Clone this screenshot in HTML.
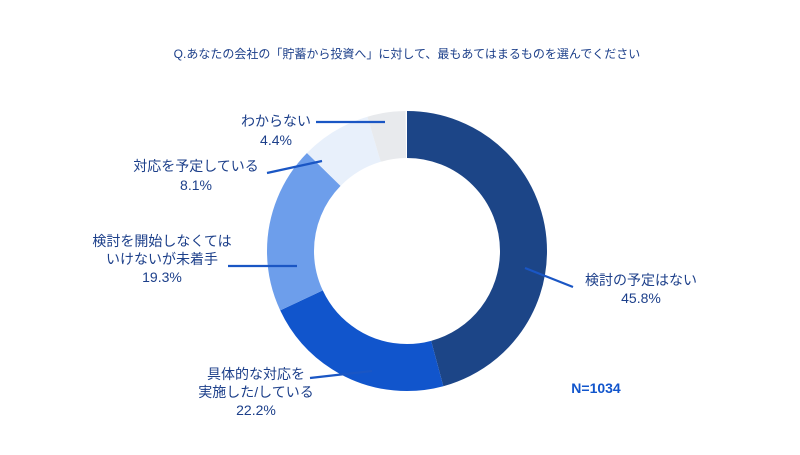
<!DOCTYPE html>
<html><head><meta charset="utf-8"><style>
body{margin:0;background:#fff;}
svg text{font-family:"Liberation Sans","Noto Sans CJK JP",sans-serif;fill:#1c3f8a;}
</style></head><body>
<svg width="800" height="450" viewBox="0 0 800 450">
<text x="407" y="58" font-size="12" text-anchor="middle">Q.あなたの会社の「貯蓄から投資へ」に対して、最もあてはまるものを選んでください</text>
<g transform="rotate(-90 407 251)" fill="none" stroke-width="47">
<circle cx="407" cy="251" r="116.5" stroke="#1c4587" stroke-dasharray="335.25 731.99" stroke-dashoffset="0"/>
<circle cx="407" cy="251" r="116.5" stroke="#1155cc" stroke-dasharray="162.5 731.99" stroke-dashoffset="-335.25"/>
<circle cx="407" cy="251" r="116.5" stroke="#6d9eeb" stroke-dasharray="141.27 731.99" stroke-dashoffset="-497.75"/>
<circle cx="407" cy="251" r="116.5" stroke="#e8f0fb" stroke-dasharray="59.29 731.99" stroke-dashoffset="-639.02"/>
<circle cx="407" cy="251" r="116.5" stroke="#e8eaed" stroke-dasharray="32.21 731.99" stroke-dashoffset="-698.31"/>
</g>
<g stroke="#1a56c4" stroke-width="2.2">
<line x1="316" y1="122" x2="385" y2="122"/>
<line x1="267" y1="173" x2="322" y2="161"/>
<line x1="228" y1="266" x2="297" y2="266"/>
<line x1="310" y1="378" x2="372" y2="371"/>
<line x1="525" y1="268" x2="573" y2="287"/>
</g>
<g font-size="14" text-anchor="middle">
<text x="276" y="126">わからない</text>
<text x="276" y="145">4.4%</text>
<text x="196" y="171">対応を予定している</text>
<text x="196" y="190">8.1%</text>
<text x="162" y="246">検討を開始しなくては</text>
<text x="162" y="264">いけないが未着手</text>
<text x="162" y="282">19.3%</text>
<text x="256" y="379">具体的な対応を</text>
<text x="256" y="397">実施した/している</text>
<text x="256" y="415">22.2%</text>
<text x="641" y="285">検討の予定はない</text>
<text x="641" y="303">45.8%</text>
</g>
<text x="596" y="393" font-size="14" font-weight="bold" text-anchor="middle" style="fill:#1155cc">N=1034</text>
</svg>
</body></html>
